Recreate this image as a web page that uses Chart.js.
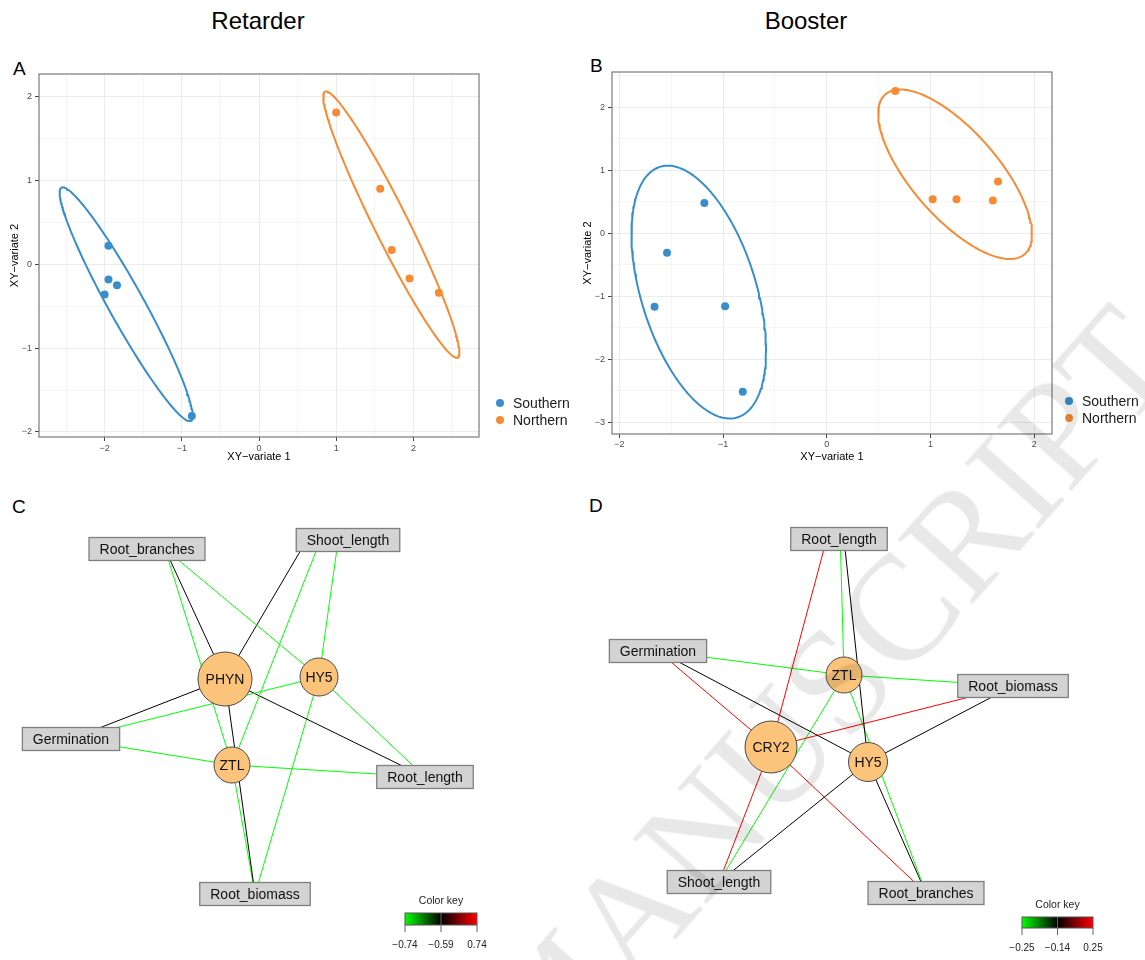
<!DOCTYPE html>
<html>
<head>
<title>Retarder / Booster</title>
<script src="https://cdn.jsdelivr.net/npm/chart.js@4.4.2/dist/chart.umd.min.js"></script>
<style>
  html, body { margin: 0; padding: 0; background: #fff; }
  body { width: 1145px; height: 960px; position: relative; overflow: hidden;
         font-family: "Liberation Sans", Arial, sans-serif; }
  canvas { position: absolute; }
  .title { position: absolute; font-size: 24px; line-height: 24px; transform: translateX(-50%); white-space: nowrap; }
  .tag { position: absolute; font-size: 19px; line-height: 19px; }
  #mark { position: absolute; left: 0; top: 0; transform-origin: 0 0;
          font-family: "Liberation Serif", "DejaVu Serif", serif; font-size: 150px; line-height: 150px;
          color: rgba(0, 0, 0, 0.09); white-space: nowrap; pointer-events: none; }
</style>
</head>
<body>
<div class="title" style="left:258px; top:9px">Retarder</div>
<div class="title" style="left:806px; top:9px">Booster</div>
<div class="tag" style="left:13px; top:59px">A</div>
<div class="tag" style="left:590px; top:56px">B</div>
<div class="tag" style="left:12px; top:497px">C</div>
<div class="tag" style="left:589px; top:496px">D</div>

<canvas id="plotA" width="580" height="410" style="left:0; top:60px"></canvas>
<canvas id="plotB" width="565" height="410" style="left:580px; top:60px"></canvas>
<canvas id="netC" width="500" height="470" style="left:0; top:490px"></canvas>
<canvas id="netD" width="555" height="470" style="left:590px; top:490px"></canvas>

<div id="mark" style="transform: translate(449px, 1005px) rotate(-48.5deg)">MANUSCRIPT</div>

<script>
// ---- sample scores (XY-variate 1 / 2) ----
const groups = ['Southern', 'Northern'];

const retSouthX = [-1.95, -1.95, -1.84, -2.00, -0.87];
const retSouthY = [0.22, -0.18, -0.25, -0.36, -1.81];
const retNorthX = [1.00, 1.57, 1.72, 1.95, 2.33];
const retNorthY = [1.81, 0.90, 0.17, -0.17, -0.34];

const booSouthX = [-1.18, -1.54, -1.66, -0.98, -0.81];
const booSouthY = [0.48, -0.31, -1.17, -1.16, -2.52];
const booNorthX = [0.66, 1.02, 1.25, 1.60, 1.65];
const booNorthY = [2.26, 0.54, 0.54, 0.52, 0.82];

// ---- networks: traits (boxes), genes (circles), edge weights [trait][gene] ----
const traitsC = ['Root_branches', 'Shoot_length', 'Germination', 'Root_length', 'Root_biomass'];
const genesC = ['PHYN', 'HY5', 'ZTL'];
const weightsC = [
  [-0.59, -0.74, -0.74],
  [-0.59, -0.74, -0.74],
  [-0.59, -0.74, -0.74],
  [-0.59, -0.74, -0.74],
  [-0.59, -0.74, -0.74]
];
const keyC = [-0.74, -0.59, 0.74];

const traitsD = ['Root_length', 'Germination', 'Root_biomass', 'Shoot_length', 'Root_branches'];
const genesD = ['ZTL', 'CRY2', 'HY5'];
const weightsD = [
  [-0.25, 0.25, -0.14],
  [-0.25, 0.25, -0.14],
  [-0.25, 0.25, -0.14],
  [-0.25, 0.25, -0.14],
  [-0.25, 0.25, -0.14]
];
const keyD = [-0.25, -0.14, 0.25];

// network layouts (canvas units); pullX/pullY move the point the edges aim at
const layoutC = {
  traitX: [147, 348, 71, 425, 255], traitY: [59, 50, 249, 287, 404],
  pullX: [18, 0, 0, 0, 0], pullY: [0, -70, 0, 0, 0],
  geneX: [225, 319, 232], geneY: [189, 187, 275], geneR: [27, 19, 18]
};
const layoutD = {
  traitX: [249, 68, 423, 129, 336], traitY: [49, 161, 196, 392, 403],
  pullX: [0, 0, 0, 0, 0], pullY: [-46, 0, 0, 0, 0],
  geneX: [254, 181, 278], geneY: [185, 257, 272], geneR: [18, 26, 19.5]
};

const FONT = '"Liberation Sans", Arial, sans-serif';
const BLUE = '#388ECC', ORANGE = '#F68B33';
const ELLIPSE_K = Math.sqrt(-2 * Math.log(1 - 0.8));
Chart.defaults.font.family = FONT;

const isInt = v => Math.abs(v - Math.round(v)) < 1e-9;
const minus = v => (v < 0 ? '\u2212' + Math.abs(v) : String(v));

// confidence ellipse from the sample covariance
function ellipse(xs, ys) {
  const n = xs.length;
  const mx = xs.reduce((a, b) => a + b, 0) / n;
  const my = ys.reduce((a, b) => a + b, 0) / n;
  let sxx = 0, syy = 0, sxy = 0;
  for (let i = 0; i < n; i++) {
    const dx = xs[i] - mx, dy = ys[i] - my;
    sxx += dx * dx; syy += dy * dy; sxy += dx * dy;
  }
  sxx /= n - 1; syy /= n - 1; sxy /= n - 1;
  const tr = sxx + syy, det = sxx * syy - sxy * sxy;
  const root = Math.sqrt(tr * tr / 4 - det);
  const a = ELLIPSE_K * Math.sqrt(tr / 2 + root);
  const b = ELLIPSE_K * Math.sqrt(Math.max(tr / 2 - root, 0));
  const th = 0.5 * Math.atan2(2 * sxy, sxx - syy);
  const pts = [];
  for (let i = 0; i <= 200; i++) {
    const t = i / 200 * 2 * Math.PI;
    pts.push({
      x: mx + a * Math.cos(t) * Math.cos(th) - b * Math.sin(t) * Math.sin(th),
      y: my + a * Math.cos(t) * Math.sin(th) + b * Math.sin(t) * Math.cos(th)
    });
  }
  return pts;
}

const zip = (xs, ys) => xs.map((x, i) => ({ x: x, y: ys[i] }));

const framePlugin = {
  id: 'frame',
  afterDraw(chart) {
    const a = chart.chartArea, ctx = chart.ctx;
    ctx.save();
    ctx.strokeStyle = '#7a7a7a';
    ctx.lineWidth = 1.2;
    ctx.strokeRect(a.left, a.top, a.right - a.left, a.bottom - a.top);
    ctx.restore();
  }
};

const sideLegend = {
  id: 'sideLegend',
  afterDraw(chart, args, opts) {
    const ctx = chart.ctx;
    ctx.save();
    ctx.font = '14px ' + FONT;
    ctx.textBaseline = 'middle';
    groups.forEach((g, i) => {
      const y = opts.y + i * 17;
      ctx.fillStyle = i === 0 ? BLUE : ORANGE;
      ctx.beginPath();
      ctx.arc(opts.x, y, 4, 0, 2 * Math.PI);
      ctx.fill();
      ctx.fillStyle = '#1a1a1a';
      ctx.fillText(g, opts.x + 13, y + 1);
    });
    ctx.restore();
  }
};

function axis(min, max, title, size, titlePad, tickPad) {
  return {
    type: 'linear', min: min, max: max,
    border: { display: false },
    grid: {
      color: c => '#EBEBEB',
      lineWidth: c => (isInt(c.tick.value) ? 1 : 0.5),
      tickColor: c => (isInt(c.tick.value) ? '#444' : 'rgba(0,0,0,0)'),
      tickLength: 4, tickWidth: 1
    },
    ticks: {
      stepSize: 0.5, includeBounds: false, autoSkip: false, maxTicksLimit: 40, maxRotation: 0,
      padding: tickPad, color: '#4D4D4D', font: { size: 9 },
      callback: v => (isInt(v) ? minus(v) : '')
    },
    title: { display: true, text: title, color: '#000', font: { size: 11 }, padding: { top: titlePad, bottom: titlePad } },
    afterFit(s) { if (s.isHorizontal()) s.height = size; else s.width = size; }
  };
}

function scoresPlot(id, sx, sy, nx, ny, range, layout) {
  new Chart(document.getElementById(id), {
    type: 'scatter',
    data: {
      datasets: [
        { label: groups[0], data: zip(sx, sy), pointRadius: 4, backgroundColor: BLUE, borderWidth: 0 },
        { label: groups[1], data: zip(nx, ny), pointRadius: 4, backgroundColor: ORANGE, borderWidth: 0 },
        { data: ellipse(sx, sy), showLine: true, pointRadius: 0, borderColor: BLUE, borderWidth: 2, fill: false },
        { data: ellipse(nx, ny), showLine: true, pointRadius: 0, borderColor: ORANGE, borderWidth: 2, fill: false }
      ]
    },
    options: {
      responsive: false, animation: false, events: [],
      layout: { padding: layout.padding, autoPadding: false },
      scales: {
        x: axis(range[0], range[1], 'XY\u2212variate 1', layout.xh, layout.xpad, layout.xtick),
        y: axis(range[2], range[3], 'XY\u2212variate 2', layout.yw, layout.ypad, 3)
      },
      plugins: { legend: { display: false }, tooltip: { enabled: false }, sideLegend: layout.legend }
    },
    plugins: [framePlugin, sideLegend]
  });
}

scoresPlot('plotA', retSouthX, retSouthY, retNorthX, retNorthY, [-2.85, 2.85, -2.06, 2.27], {
  padding: { top: 14, right: 101, left: 0, bottom: 0 }, xh: 33, yw: 39, xpad: 6, ypad: 8.4, xtick: 2,
  legend: { x: 500, y: 343 }
});
scoresPlot('plotB', booSouthX, booSouthY, booNorthX, booNorthY, [-2.07, 2.17, -3.19, 2.56], {
  padding: { top: 12, right: 93, left: 0, bottom: 0 }, xh: 36, yw: 32, xpad: 6.5, ypad: 1.4, xtick: 1,
  legend: { x: 489, y: 341 }
});

// ---- networks ----
const BOX_FONT = '14px ' + FONT;
const meas = document.createElement('canvas').getContext('2d');
meas.font = BOX_FONT;
const boxSize = label => [meas.measureText(label).width + 21, 23];

function edgeColor(v, key) {
  const [lo, mid, hi] = key;
  if (v <= mid) {
    const t = Math.max(0, Math.min(1, (v - lo) / (mid - lo)));
    return 'rgb(0,' + Math.round(255 * (1 - t)) + ',0)';
  }
  const t = Math.min(1, (v - mid) / (hi - mid));
  return 'rgb(' + Math.round(255 * t) + ',0,0)';
}

// first point where the segment (gx,gy)->(ax,ay) enters the box
function clipToBox(gx, gy, ax, ay, cx, cy, w, h) {
  const dx = ax - gx, dy = ay - gy;
  let t0 = 0;
  const slab = (p, d, lo, hi) => {
    if (Math.abs(d) < 1e-9) return;
    let a = (lo - p) / d, b = (hi - p) / d;
    if (a > b) [a, b] = [b, a];
    t0 = Math.max(t0, a);
  };
  slab(gx, dx, cx - w / 2, cx + w / 2);
  slab(gy, dy, cy - h / 2, cy + h / 2);
  return { x: gx + t0 * dx, y: gy + t0 * dy };
}

const netPlugin = {
  id: 'net',
  afterDatasetsDraw(chart, args, opts) {
    const ctx = chart.ctx, sx = chart.scales.x, sy = chart.scales.y;
    const L = opts.layout;
    ctx.save();
    ctx.font = BOX_FONT;
    ctx.textAlign = 'center';
    ctx.textBaseline = 'middle';
    opts.traits.forEach((t, i) => {
      const [w, h] = boxSize(t);
      const x = sx.getPixelForValue(L.traitX[i]), y = sy.getPixelForValue(L.traitY[i]);
      ctx.fillStyle = '#D3D3D3';
      ctx.fillRect(x - w / 2, y - h / 2, w, h);
      ctx.strokeStyle = '#7F7F7F';
      ctx.lineWidth = 1.3;
      ctx.strokeRect(x - w / 2, y - h / 2, w, h);
      ctx.fillStyle = '#111';
      ctx.fillText(t, x, y + 1);
    });
    opts.genes.forEach((g, j) => {
      ctx.fillStyle = '#111';
      ctx.fillText(g, sx.getPixelForValue(L.geneX[j]), sy.getPixelForValue(L.geneY[j]) + 1);
    });
    // colour key
    const k = opts.keyBox;
    const grad = ctx.createLinearGradient(k.x0, 0, k.x1, 0);
    grad.addColorStop(0, '#00FF00');
    grad.addColorStop(0.5, '#000000');
    grad.addColorStop(1, '#FF0000');
    ctx.fillStyle = grad;
    ctx.fillRect(k.x0, k.y0, k.x1 - k.x0, k.y1 - k.y0);
    ctx.strokeStyle = '#555';
    ctx.lineWidth = 1;
    ctx.strokeRect(k.x0, k.y0, k.x1 - k.x0, k.y1 - k.y0);
    const xm = (k.x0 + k.x1) / 2;
    ctx.beginPath();
    [k.x0, xm, k.x1].forEach(x => { ctx.moveTo(x, x === xm ? k.y0 : k.y1); ctx.lineTo(x, k.y1 + 7); });
    ctx.strokeStyle = '#666';
    ctx.stroke();
    ctx.fillStyle = '#222';
    ctx.font = '10.5px ' + FONT;
    ctx.fillText('Color key', xm, k.y0 - 12);
    ctx.font = '10px ' + FONT;
    opts.key.forEach((v, i) => ctx.fillText(minus(v), [k.x0, xm, k.x1][i], k.y1 + 20));
    ctx.restore();
  }
};

function networkPlot(id, traits, genes, weights, key, L, keyBox) {
  const cv = document.getElementById(id);
  const edges = [];
  traits.forEach((t, i) => {
    const [w, h] = boxSize(t);
    genes.forEach((g, j) => {
      const gx = L.geneX[j], gy = L.geneY[j];
      const end = clipToBox(gx, gy, L.traitX[i] + L.pullX[i], L.traitY[i] + L.pullY[i],
                            L.traitX[i], L.traitY[i], w, h);
      edges.push({
        data: [{ x: gx, y: gy }, end], showLine: true, pointRadius: 0,
        borderColor: edgeColor(weights[i][j], key), borderWidth: 1, clip: false
      });
    });
  });
  const nodes = {
    data: genes.map((g, j) => ({ x: L.geneX[j], y: L.geneY[j] })),
    pointRadius: L.geneR, backgroundColor: '#FBC47A', borderColor: '#4a4a4a', borderWidth: 1, clip: false
  };
  new Chart(cv, {
    type: 'scatter',
    data: { datasets: [nodes].concat(edges) },
    options: {
      responsive: false, animation: false, events: [],
      layout: { padding: 0, autoPadding: false },
      scales: {
        x: { type: 'linear', min: 0, max: cv.width, display: false },
        y: { type: 'linear', min: 0, max: cv.height, reverse: true, display: false }
      },
      plugins: {
        legend: { display: false }, tooltip: { enabled: false },
        net: { traits: traits, genes: genes, key: key, layout: L, keyBox: keyBox }
      }
    },
    plugins: [netPlugin]
  });
}

networkPlot('netC', traitsC, genesC, weightsC, keyC, layoutC, { x0: 405, x1: 477, y0: 423, y1: 435 });
networkPlot('netD', traitsD, genesD, weightsD, keyD, layoutD, { x0: 432, x1: 503, y0: 427, y1: 438 });
</script>
</body>
</html>
